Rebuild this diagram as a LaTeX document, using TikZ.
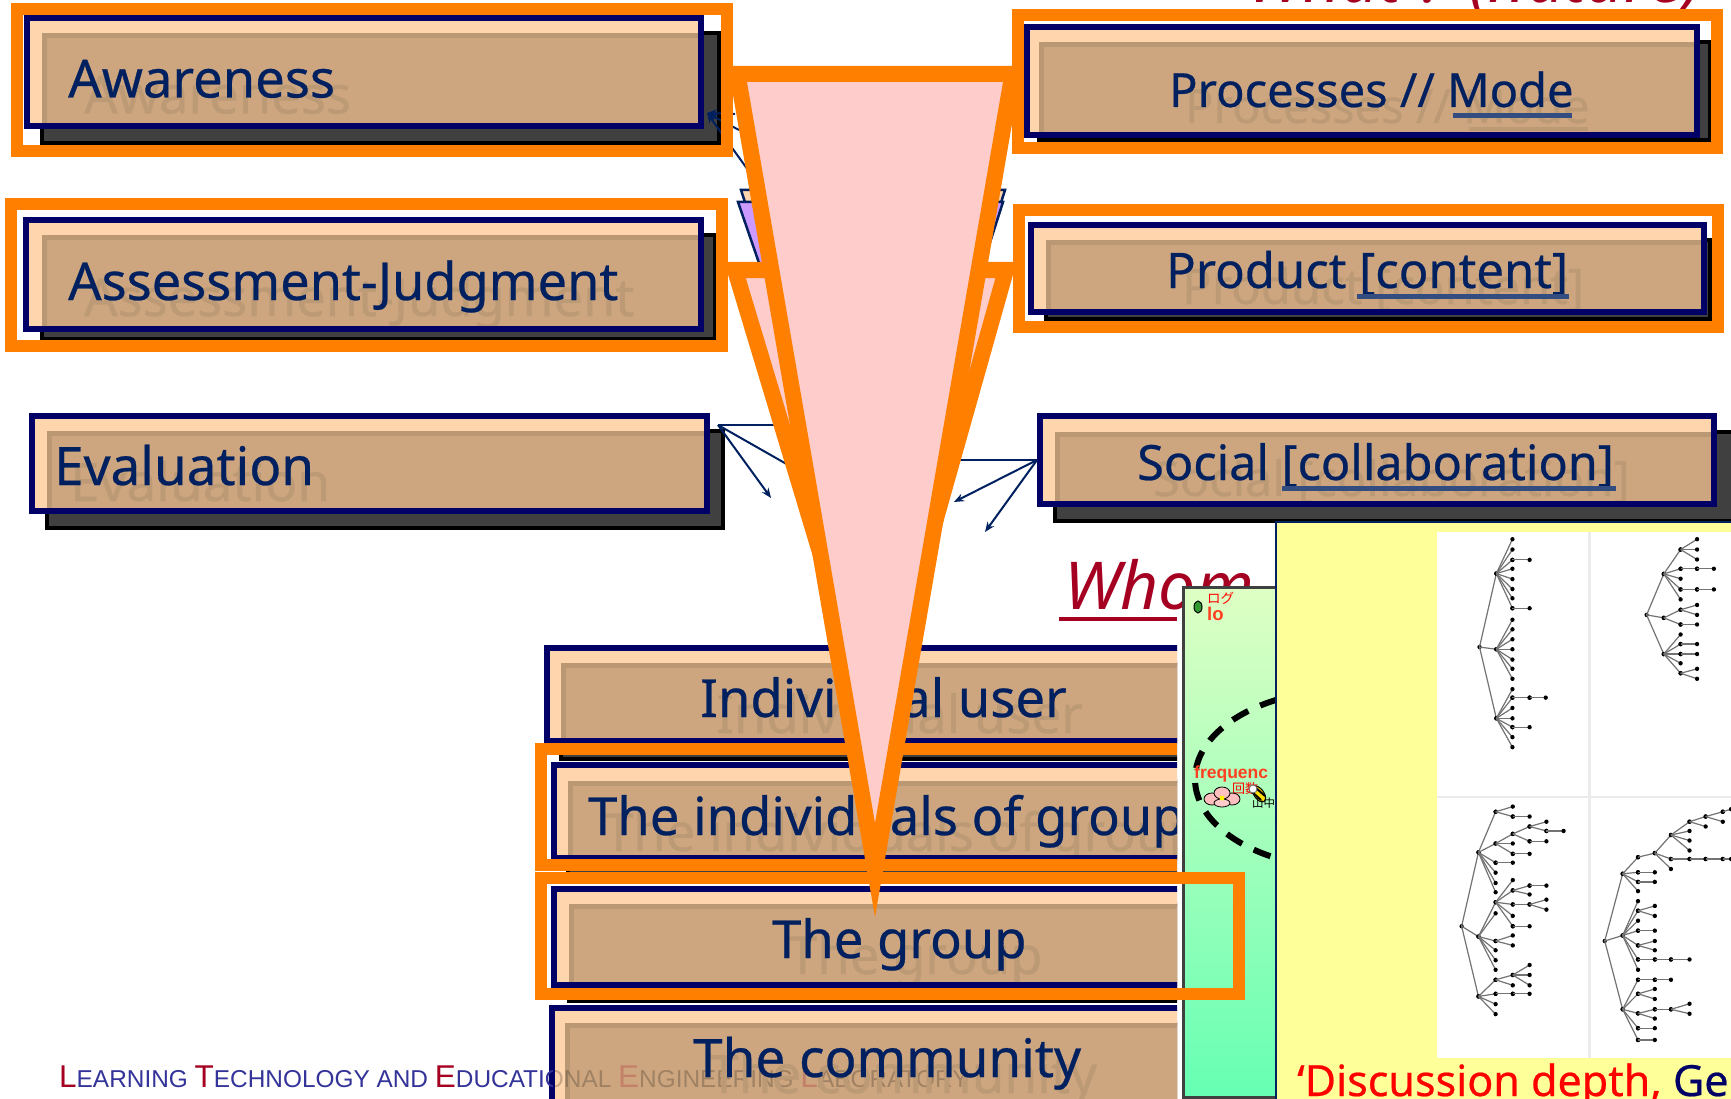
\documentclass[tikz,border=0pt]{standalone}
\usepackage{fontspec}
\usetikzlibrary{arrows.meta}
\setmainfont{Noto Sans}
\newfontfamily\labelfont[FakeBold=0.5]{Noto Sans}
\newfontfamily\cjkjp{Noto Sans CJK JP}
\newfontfamily\armo{Liberation Sans}
\definecolor{orangeline}{HTML}{FF8000}
\definecolor{navyline}{HTML}{000066}
\definecolor{inktext}{HTML}{002060}
\definecolor{peach}{HTML}{FFD5AD}
\definecolor{tanface}{HTML}{CDA67F}
\definecolor{tanedge}{HTML}{BA9873}
\definecolor{ghost}{HTML}{BC9A76}
\definecolor{wine}{HTML}{A50021}
\definecolor{pinkface}{HTML}{FFCCCC}
\definecolor{lilac}{HTML}{CC99FF}
\definecolor{paleyellow}{HTML}{FFFF99}
\definecolor{footblue}{HTML}{333399}
\definecolor{logred}{HTML}{FF4020}
\definecolor{paneltop}{HTML}{DFFFC4}
\definecolor{panelmid}{HTML}{99FFB8}
\definecolor{panelend}{HTML}{66FFB3}
\tikzset{
  shadowbox/.style={draw=black,line width=4pt,fill=black!75},
  navybox/.style={draw=navyline,line width=6pt},
  orangebox/.style={draw=orangeline,line width=12pt},
  wedge/.style={draw=orangeline,line width=16pt,fill=pinkface,miter limit=10},
  thinarrow/.style={draw=inktext,line width=2pt,-{Stealth[length=10pt,width=8pt]}},
  thinline/.style={draw=inktext,line width=2pt},
  boxlabel/.style={anchor=base west,inner sep=0pt,text=inktext},
  ghostlabel/.style={anchor=base west,inner sep=0pt,text=ghost},
  underbar/.style={draw=inktext!80,line width=5pt},
  treeline/.style={draw=black!55,line width=1.2pt},
}
% one layered box: navy corners, then shadow corners
\newcommand{\LayerBox}[4]{
  \draw[shadowbox] (#3) rectangle (#4);
  \fill[peach] (#1) rectangle (#2);
  \begin{scope}
    \clip (#1) rectangle (#2);
    \fill[tanedge] (#3) rectangle (#4);
    \fill[tanface] (#3) ++(5,5) rectangle (#4);
  \end{scope}
  \def\BoxFrom{#1}\def\BoxTo{#2}
}
\newcommand{\BoxLabel}[5]{
  \begin{scope}
    \clip (\BoxFrom) rectangle (\BoxTo);
    \node[ghostlabel,font=\labelfont\fontsize{#4}{#4}\selectfont] (#1ghost) at (#2+16,#3+16) {#5};
  \end{scope}
  \draw[navybox] (\BoxFrom) rectangle (\BoxTo);
  \node[boxlabel,font=\labelfont\fontsize{#4}{#4}\selectfont] (#1) at (#2,#3) {#5};
}
\newcommand{\TreeFan}[2]{
  \fill #1 circle[radius=6pt];
  \foreach \Point in {#2}{
    \draw[treeline] #1 -- \Point;
    \fill \Point circle[radius=6pt];
  }
}
\newcommand{\FootCap}[1]{\textcolor{wine}{\fontsize{31.5}{31.5}\selectfont #1}}
\newcommand{\FootText}{\armo\fontsize{24.4}{24.4}\selectfont
  \FootCap{L}EARNING \FootCap{T}ECHNOLOGY AND
  \FootCap{E}DUCATIONAL \FootCap{E}NGINEERING
  \FootCap{L}ABORATORY}
\begin{document}
\begin{tikzpicture}[x=1pt,y=-1pt]
  \useasboundingbox (0,0) rectangle (1731,1099);

  % headings behind everything
  \node[anchor=base west,inner sep=0pt,text=wine,font=\fontsize{66}{66}\selectfont\itshape] (whathead) at (1247,3) {What ? (nature)};
  \node[anchor=base west,inner sep=0pt,text=wine,font=\fontsize{66}{66}\selectfont\itshape] (whomhead) at (1064,609) {Whom ?};
  \draw[wine,line width=4pt] (1059,619) -- (1177,619);

  % boxes of the left and right columns
  \LayerBox{27,18}{701,126}{42,33}{719,143}
  \BoxLabel{aware}{68}{97.5}{52.5}{Awareness}
  \LayerBox{26,220}{701,329}{42,235}{715,339}
  \BoxLabel{assess}{68}{300}{52.3}{Assessment-Judgment}
  \LayerBox{32,416}{707,511}{47,431}{723,528}
  \BoxLabel{evalu}{54}{485}{53}{Evaluation}
  \LayerBox{1027,27}{1697,135}{1039,42}{1710,140}
  \BoxLabel{process}{1169}{107}{47}{Processes // Mode}
  \draw[ghost,line width=4pt] (1469,129.5) -- (1588,129.5);
  \draw[underbar] (1453,115.5) -- (1572,115.5);
  \LayerBox{1031,225}{1704,312}{1046,240}{1710,319}
  \BoxLabel{product}{1166}{288}{49}{Product [content]}
  \draw[underbar] (1357,296.5) -- (1569,296.5);
  \LayerBox{1040,416}{1714,504}{1055,432}{1750,521}
  \BoxLabel{social}{1137}{480}{48.6}{Social [collaboration]}
  \draw[underbar] (1282,488.5) -- (1616,488.5);

  % boxes of the lower column
  \begin{scope}
    \clip (0,0) rectangle (1177,1099);
    \LayerBox{547,648}{1300,741}{561,663}{1320,759}
    \BoxLabel{indiv}{700}{717}{52.5}{Individual user}
    \LayerBox{554,765}{1300,858}{568,781}{1320,874}
    \BoxLabel{indivgroup}{588}{835}{52.5}{The individuals of group}
    \LayerBox{554,889}{1300,985}{569,904}{1320,1001}
    \BoxLabel{group}{772}{958}{52.5}{The group}
    \LayerBox{552,1008}{1300,1130}{565,1023}{1320,1140}
    \begin{scope}
      \clip (552,1040) rectangle (1300,1099);
      \node[anchor=base west,inner sep=0pt,opacity=.22] (footghost) at (59,1087) {\FootText};
    \end{scope}
    \BoxLabel{commun}{693}{1077}{53}{The community}
  \end{scope}
  \begin{scope}
    \clip (0,1040) rectangle (552,1099);
    \node[anchor=base west,inner sep=0pt,text=footblue] (foot) at (59,1087) {\FootText};
  \end{scope}

  % arrows
  \coordinate (awarehub) at (707,113);
  \coordinate (awareA) at (735,114);
  \coordinate (awareB) at (739,130);
  \coordinate (awareC) at (748,170);
  \coordinate (evalhub) at (718,425);
  \coordinate (evalA) at (790,425);
  \coordinate (evalB) at (790,466);
  \coordinate (evalC) at (771,498);
  \coordinate (sochub) at (1037,460);
  \coordinate (socA) at (950,460);
  \coordinate (socB) at (954,502);
  \coordinate (socC) at (985,532);
  \draw[thinarrow] (awareA) -- (awarehub);
  \draw[thinarrow] (awareB) -- (awarehub);
  \draw[thinarrow] (awareC) -- (awarehub);
  \draw[thinline] (evalhub) -- (evalA);
  \draw[thinline] (evalhub) -- (evalB);
  \draw[thinarrow] (evalhub) -- (evalC);
  \draw[thinline] (sochub) -- (socA);
  \draw[thinarrow] (sochub) -- (socB);
  \draw[thinarrow] (sochub) -- (socC);

  % green panel
  \begin{scope}
    \clip (1182,586) rectangle (1276,1096);
    \fill[top color=paneltop,middle color=panelmid,bottom color=panelend] (1182,586) rectangle (1276,1096);
    \draw[black,line width=6pt,dash pattern=on 18pt off 13pt,dash phase=20pt] (1195,779) arc[start angle=180,end angle=90,x radius=150pt,y radius=89pt];
    \draw[black,line width=6pt,dash pattern=on 18pt off 13pt,dash phase=27pt] (1195,779) arc[start angle=180,end angle=270,x radius=150pt,y radius=89pt];
    \node[anchor=base west,inner sep=0pt,text=red,font=\cjkjp\fontsize{13.5}{13.5}\selectfont] (logja) at (1207,603) {ログ};
    \node[anchor=base west,inner sep=0pt,text=logred,font=\armo\bfseries\fontsize{18.5}{18.5}\selectfont] (loglabel) at (1207,620) {lo};
    \filldraw[fill=green!50!black!80,draw=black,line width=1pt] (1198,607) ellipse[x radius=4pt,y radius=6pt];
    \node[anchor=base west,inner sep=0pt,text=logred,font=\armo\bfseries\fontsize{17.5}{17.5}\selectfont] (freqlabel) at (1194,778) {frequenc};
    \node[anchor=base west,inner sep=0pt,text=red,font=\cjkjp\fontsize{13}{13}\selectfont] (freqja) at (1232,793) {回数};
    \foreach \Point in {(1212,799),(1232,799),(1222,793)}{
      \filldraw[fill=pink,draw=black,line width=.8pt] \Point ellipse[x radius=8pt,y radius=6pt];
    }
    \filldraw[fill=pinkface,draw=black,line width=.8pt] (1222,803) ellipse[x radius=8pt,y radius=4pt];
    \fill[yellow] (1222,798) circle[radius=2.5pt];
    \filldraw[fill=yellow!80!orange,draw=black,line width=1pt,rotate around={-55:(1259,794)}] (1259,794) ellipse[x radius=9pt,y radius=5pt];
    \draw[black,line width=2pt] (1256,788) -- (1265,796) (1252,792) -- (1261,800);
    \filldraw[fill=white,draw=black!60,line width=.8pt] (1253,789) circle[radius=4pt];
    \node[anchor=base west,inner sep=0pt,text=black,font=\cjkjp\fontsize{11.5}{11.5}\selectfont] (namelabel) at (1252,807) {山中};
  \end{scope}
  \draw[black!75,line width=3pt] (1276,587.5) -- (1183.5,587.5) -- (1183.5,1097.5) -- (1276,1097.5);

  % yellow panel with the four trees
  \filldraw[fill=paleyellow,draw=inktext,line width=2pt] (1276,522) rectangle (1760,1120);
  \fill[white] (1437,532) rectangle (1731,1058);
  \fill[black!8] (1587.5,532) rectangle (1591,1058);
  \fill[black!8] (1437,795.5) rectangle (1731,797.5);
  \begin{scope}[shift={(1170,520)},xscale=.3578,yscale=.3693]
    % top left
    \TreeFan{(865,344)}{(912,145),(912,350),(912,537)}
    \TreeFan{(912,145)}{(957,52),(957,80),(957,108),(957,132),(957,160),(957,187),(957,212),(957,239)}
    \TreeFan{(912,350)}{(957,270),(957,296),(957,323),(957,350),(957,378),(957,403),(957,430)}
    \TreeFan{(912,537)}{(957,458),(957,481),(957,509),(957,537),(957,561),(957,588),(957,615)}
    \TreeFan{(957,108)}{(1005,108)}
    \TreeFan{(957,239)}{(1005,239)}
    \TreeFan{(957,481)}{(1005,481)}
    \TreeFan{(1005,481)}{(1050,481)}
    \TreeFan{(957,561)}{(1005,561)}
    % top right
    \TreeFan{(1332,257)}{(1380,146),(1380,265),(1380,363)}
    \TreeFan{(1380,146)}{(1427,80),(1427,132),(1427,159),(1427,188),(1427,215)}
    \TreeFan{(1427,80)}{(1473,52),(1473,80),(1473,107)}
    \TreeFan{(1427,132)}{(1473,132)}
    \TreeFan{(1473,132)}{(1520,132)}
    \TreeFan{(1427,188)}{(1473,188)}
    \TreeFan{(1473,188)}{(1520,188)}
    \TreeFan{(1380,265)}{(1427,243),(1427,283)}
    \TreeFan{(1427,243)}{(1473,230),(1473,257)}
    \TreeFan{(1427,283)}{(1473,283)}
    \TreeFan{(1380,363)}{(1427,310),(1427,336),(1427,363),(1427,388),(1427,415)}
    \TreeFan{(1427,336)}{(1473,336)}
    \TreeFan{(1427,363)}{(1473,363)}
    \TreeFan{(1427,415)}{(1473,403),(1473,430)}
    % bottom left
    \TreeFan{(815,1100)}{(862,900),(862,1128),(862,1290)}
    \TreeFan{(862,900)}{(910,790),(910,876),(910,928),(910,955),(910,983),(910,1008)}
    \TreeFan{(910,790)}{(958,776),(958,803)}
    \TreeFan{(958,803)}{(1005,803)}
    \TreeFan{(910,876)}{(958,850),(958,876),(958,904)}
    \TreeFan{(958,904)}{(1005,904)}
    \TreeFan{(958,850)}{(1005,830),(1005,870)}
    \TreeFan{(1005,830)}{(1052,817),(1052,842)}
    \TreeFan{(1052,842)}{(1100,842)}
    \TreeFan{(1005,870)}{(1052,870)}
    \TreeFan{(910,928)}{(958,928)}
    \TreeFan{(862,1128)}{(910,1035),(910,1065),(910,1140),(910,1165),(910,1192),(910,1218)}
    \TreeFan{(910,1035)}{(958,975),(958,1003),(958,1041),(958,1072),(958,1100)}
    \TreeFan{(958,1003)}{(1005,990),(1005,1014)}
    \TreeFan{(1005,990)}{(1052,990)}
    \TreeFan{(958,1041)}{(1005,1041)}
    \TreeFan{(1005,1041)}{(1052,1028),(1052,1055)}
    \TreeFan{(958,1100)}{(1005,1100)}
    \TreeFan{(910,1140)}{(958,1125),(958,1152)}
    \TreeFan{(862,1290)}{(910,1245),(910,1283),(910,1311),(910,1338)}
    \TreeFan{(910,1245)}{(958,1232),(958,1260)}
    \TreeFan{(958,1232)}{(1005,1205),(1005,1232),(1005,1260)}
    \TreeFan{(910,1283)}{(958,1283)}
    \TreeFan{(958,1283)}{(1005,1283)}
    % bottom right
    \TreeFan{(1215,1140)}{(1265,958),(1265,1125),(1265,1325)}
    \TreeFan{(1265,958)}{(1308,913),(1308,954),(1308,980),(1308,1005)}
    \TreeFan{(1308,913)}{(1355,902)}
    \TreeFan{(1308,954)}{(1355,954)}
    \TreeFan{(1308,980)}{(1355,980)}
    \TreeFan{(1355,902)}{(1400,853),(1400,918),(1400,945)}
    \TreeFan{(1400,853)}{(1452,817),(1452,842),(1452,868),(1452,895)}
    \TreeFan{(1452,817)}{(1497,803),(1497,830)}
    \TreeFan{(1497,803)}{(1545,790),(1545,817)}
    \TreeFan{(1545,790)}{(1568,783)}
    \TreeFan{(1400,918)}{(1452,918)}
    \TreeFan{(1452,918)}{(1497,918)}
    \TreeFan{(1497,918)}{(1545,918)}
    \TreeFan{(1545,918)}{(1568,918)}
    \TreeFan{(1265,1125)}{(1308,1032),(1308,1058),(1308,1085),(1308,1112),(1308,1152),(1308,1190),(1308,1218)}
    \TreeFan{(1308,1058)}{(1355,1045),(1355,1072)}
    \TreeFan{(1308,1112)}{(1355,1112)}
    \TreeFan{(1308,1152)}{(1355,1140),(1355,1165)}
    \TreeFan{(1308,1190)}{(1355,1190)}
    \TreeFan{(1355,1190)}{(1400,1190)}
    \TreeFan{(1400,1190)}{(1452,1190)}
    \TreeFan{(1265,1325)}{(1308,1245),(1308,1283),(1308,1336),(1308,1376),(1308,1408)}
    \TreeFan{(1308,1245)}{(1355,1245)}
    \TreeFan{(1355,1245)}{(1400,1245)}
    \TreeFan{(1308,1283)}{(1355,1270),(1355,1297)}
    \TreeFan{(1308,1336)}{(1355,1325),(1355,1350)}
    \TreeFan{(1355,1325)}{(1400,1325)}
    \TreeFan{(1400,1325)}{(1452,1310),(1452,1337)}
    \TreeFan{(1308,1376)}{(1355,1376)}
    \TreeFan{(1308,1408)}{(1355,1408)}
  \end{scope}
  \node[anchor=base west,inner sep=0pt,font=\labelfont\fontsize{43}{43}\selectfont,text=red] (depthlabel) at (1297,1096) {‘Discussion depth, \textcolor{navyline}{Gen}};

  % orange frames
  \draw[orangebox] (17,9.5) rectangle (727,151);
  \draw[orangebox] (11,204) rectangle (722,346);
  \draw[orangebox] (1018,15) rectangle (1717,148);
  \draw[orangebox] (1019,210.5) rectangle (1718,326.5);
  \draw[orangeline,line width=12pt] (1177,749) -- (541,749) -- (541,865) -- (1177,865);
  \draw[orangebox] (541,878) rectangle (1239,994);

  % wedges in the middle
  \filldraw[fill=peach,draw=inktext,line width=2.5pt] (741,190) -- (1005,190) -- (875,600) -- cycle;
  \filldraw[fill=lilac,draw=inktext,line width=2.5pt] (738,202) -- (1003,202) -- (875,600) -- cycle;
  \path[wedge] (735,270) -- (1006,270) -- (875,735) -- cycle;
  \path[wedge] (737.5,74) -- (1012.5,74) -- (875,870) -- cycle;
\end{tikzpicture}
\end{document}
